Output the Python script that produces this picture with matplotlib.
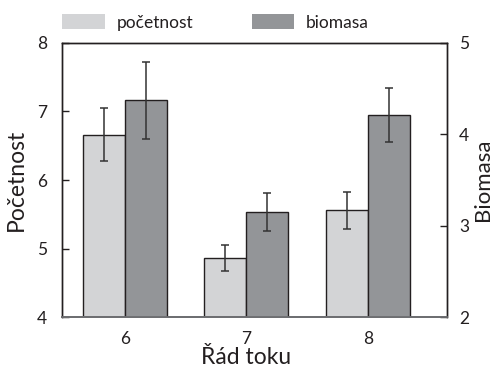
import matplotlib
matplotlib.use("Agg")
import matplotlib.pyplot as plt
from matplotlib.patches import Patch
import numpy as np

# data
rad_toku = ["6", "7", "8"]
pocetnost = [6.66, 4.86, 5.56]
pocetnost_err = [0.39, 0.19, 0.27]
biomasa = [4.37, 3.15, 4.21]
biomasa_err = [0.42, 0.21, 0.30]

light = "#d3d4d6"
dark = "#939598"
ink = "#231f20"

plt.rcParams["font.family"] = ["Lato", "DejaVu Sans"]
plt.rcParams["text.color"] = ink
plt.rcParams["axes.labelcolor"] = ink
plt.rcParams["xtick.color"] = ink
plt.rcParams["ytick.color"] = ink

fig = plt.figure(figsize=(4.95, 3.71), dpi=100)
ax = fig.add_axes([0.1259, 0.1447, 0.7765, 0.7402])
ax2 = ax.twinx()

x = np.arange(len(rad_toku))
w = 0.345
err_kw = dict(ecolor="#333333", elinewidth=1.1, capsize=2.6, capthick=1.1)

ax.bar(x - w / 2, pocetnost, w, yerr=pocetnost_err, color=light,
       edgecolor=ink, linewidth=1.0, error_kw=err_kw)
ax2.bar(x + w / 2, biomasa, w, yerr=biomasa_err, color=dark,
        edgecolor=ink, linewidth=1.0, error_kw=err_kw)

ax.set_xlim(-0.516, 2.65)
ax.set_ylim(4, 8)
ax2.set_ylim(2, 5)
ax.set_xticks(x)
ax.set_xticklabels(rad_toku)
ax.set_yticks([4, 5, 6, 7, 8])
ax2.set_yticks([2, 3, 4, 5])

ax.tick_params(axis="x", length=0, pad=10, labelsize=12.5)
ax.tick_params(axis="y", direction="in", length=5, width=1.0, pad=11, labelsize=12.5)
ax2.tick_params(axis="y", direction="in", length=5, width=1.0, pad=9, labelsize=12.5)

for a in (ax, ax2):
    for s in a.spines.values():
        s.set_color(ink)
        s.set_linewidth(1.0)
    a.spines["bottom"].set_color("#6d6e71")
    a.spines["bottom"].set_linewidth(1.3)

ax.set_ylabel("Početnost", fontsize=16.5, labelpad=7)
ax2.set_ylabel("Biomasa", fontsize=16, labelpad=2.5)
ax.set_xlabel("Řád toku", fontsize=16.5, labelpad=0)
# label sits under the middle group rather than the axes centre
ax.xaxis.label.set_x(0.479)

handles = [Patch(facecolor=light, edgecolor="none"),
           Patch(facecolor=dark, edgecolor="none")]
fig.legend(handles, ["početnost", "biomasa"], loc="center left",
           bbox_to_anchor=(62.3 / 495, 1 - 22.5 / 371), ncol=2,
           frameon=False, fontsize=12.5, borderpad=0, borderaxespad=0,
           handlelength=2.45, handleheight=0.97, handletextpad=0.66,
           columnspacing=3.4)

fig.savefig("out.png", dpi=100)
